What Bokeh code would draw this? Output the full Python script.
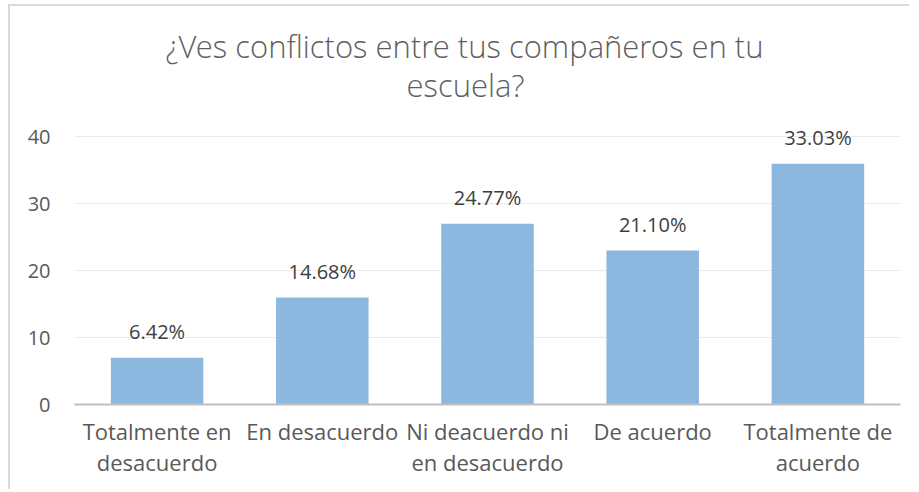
from bokeh.plotting import figure
from bokeh.models import (ColumnDataSource, FactorRange, Range1d, FixedTicker, Title,
                          CategoricalAxis)
from bokeh.core.properties import value
from bokeh.embed import file_html
from bokeh.resources import INLINE

label_line1 = ["Totalmente en", "En desacuerdo", "Ni deacuerdo ni", "De acuerdo", "Totalmente de"]
label_line2 = ["desacuerdo", " ", "en desacuerdo", "  ", "acuerdo"]
counts = [7, 16, 27, 23, 36]
pct_labels = ["6.42%", "14.68%", "24.77%", "21.10%", "33.03%"]
y_ticks = [0, 10, 20, 30, 40]
title_line1 = "¿Ves conflictos entre tus compañeros en tu"
title_line2 = "escuela?"

FONT = "Open Sans"
TITLE_FONT = "Open Sans Light"

src = ColumnDataSource(dict(cat=label_line1, val=counts, lab=pct_labels))

p = figure(width=901, height=485, x_range=FactorRange(*label_line1), y_range=Range1d(0, 42),
           output_backend="svg", toolbar_location=None,
           min_border_left=64, min_border_right=11, min_border_top=117, min_border_bottom=87)
p.styles = {"margin-top": "4px", "margin-left": "8px",
            "border-top": "2px solid #D9D9D9", "border-left": "2px solid #D9D9D9"}
p.title.text = ""
p.extra_x_ranges = {"line2": FactorRange(*label_line2)}

t2 = Title(text=title_line2, align="left", offset=332, text_font=TITLE_FONT, text_font_size="31px",
           text_color="#5E5E5E", text_font_style="normal", standoff=35)
t1 = Title(text=title_line1, align="left", offset=91, text_font=TITLE_FONT,
           text_font_size="31px", text_color="#5E5E5E", text_font_style="normal", standoff=-44)
p.add_layout(t2, "above")
p.add_layout(t1, "above")

p.vbar(x="cat", top="val", width=0.56, source=src, fill_color="#8CB8E0", line_color=None)
p.text(x="cat", y="val", text="lab", source=src, text_align="center",
       text_baseline="alphabetic", y_offset=-26, text_font=value(FONT),
       text_font_size="20px", text_color="#404040")

p.outline_line_color = None
p.background_fill_color = "white"
p.border_fill_color = "white"

p.xgrid.grid_line_color = None
p.ygrid.grid_line_color = "#EBEBEB"
p.ygrid.grid_line_width = 1
p.yaxis.ticker = FixedTicker(ticks=y_ticks)
p.yaxis.axis_line_color = None
p.yaxis.major_tick_line_color = None
p.yaxis.minor_tick_line_color = None
p.yaxis.major_label_standoff = 18
p.yaxis.major_label_text_font = FONT
p.yaxis.major_label_text_font_size = "20px"
p.yaxis.major_label_text_color = "#595959"

xa = p.xaxis[0]
xa.axis_line_color = "#BFBFBF"
xa.axis_line_width = 2
xa.major_tick_line_color = None
xa.minor_tick_line_color = None
xa.major_label_standoff = 5
xa.major_label_text_font = FONT
xa.major_label_text_font_size = "22px"
xa.major_label_text_color = "#595959"

xa2 = CategoricalAxis(x_range_name="line2")
xa2.axis_line_color = None
xa2.major_tick_line_color = None
xa2.minor_tick_line_color = None
xa2.major_label_standoff = -8
xa2.major_label_text_font = FONT
xa2.major_label_text_font_size = "22px"
xa2.major_label_text_color = "#595959"
p.add_layout(xa2, "below")

open("out.html", "w").write(file_html(p, INLINE))
